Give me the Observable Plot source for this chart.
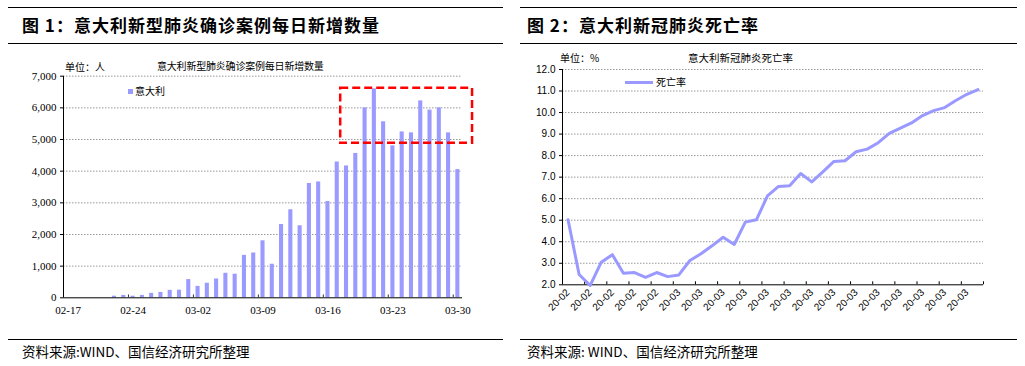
<!DOCTYPE html>
<html><head><meta charset="utf-8">
<script src="https://cdn.jsdelivr.net/npm/d3@7"></script>
<script src="https://cdn.jsdelivr.net/npm/@observablehq/plot@0.6"></script>
<style>
body{margin:0;background:#fff;}
#wrap{position:relative;width:1025px;height:366px;overflow:hidden;font-family:"Noto Sans CJK SC",sans-serif;color:#000;}
.rule{position:absolute;height:0;border-top:1.5px solid #000;}
.t{position:absolute;white-space:nowrap;line-height:1;}
.title{font-size:17px;font-weight:bold;letter-spacing:1px;}
.src{font-size:13.5px;}
.s10{font-size:10px;}
.chart{position:absolute;}
</style></head><body><div id="wrap">
<div class="rule" style="left:8px;top:7px;width:495px"></div>
<div class="rule" style="left:8px;top:43px;width:495px"></div>
<div class="rule" style="left:520px;top:7px;width:497px"></div>
<div class="rule" style="left:520px;top:43px;width:497px"></div>
<div class="rule" style="left:8px;top:339px;width:495px"></div>
<div class="rule" style="left:520px;top:339px;width:497px"></div>
<div class="t title" style="left:22px;top:16px">图 1：意大利新型肺炎确诊案例每日新增数量</div>
<div class="t title" style="left:527px;top:16px">图 2：意大利新冠肺炎死亡率</div>
<div class="t src" style="left:22px;top:345px">资料来源:WIND、国信经济研究所整理</div>
<div class="t src" style="left:527px;top:345px">资料来源: WIND、国信经济研究所整理</div>
<div id="left" class="chart" style="left:0px;top:50px"></div>
<div id="right" class="chart" style="left:515px;top:50px"></div>
<div class="t s10" style="left:65px;top:61.5px">单位：人</div>
<div class="t s10" style="left:157px;top:61px;letter-spacing:-0.2px">意大利新型肺炎确诊案例每日新增数量</div>
<div style="position:absolute;left:128px;top:88.5px;width:5px;height:5px;background:#9a9aff"></div>
<div class="t s10" style="left:135px;top:86px">意大利</div>
<div class="t s10" style="left:560px;top:53px">单位：%</div>
<div class="t" style="left:688px;top:53px;font-size:10.5px">意大利新冠肺炎死亡率</div>
<div style="position:absolute;left:625px;top:80.5px;width:28px;height:3px;background:#9999ff"></div>
<div class="t s10" style="left:656px;top:77px">死亡率</div>
</div>
<script>
// ---------- Chart 1 data: daily new confirmed cases (Italy) ----------
const caseDays = ["02-22","02-23","02-24","02-25","02-26","02-27","02-28","02-29",
  "03-01","03-02","03-03","03-04","03-05","03-06","03-07","03-08","03-09","03-10",
  "03-11","03-12","03-13","03-14","03-15","03-16","03-17","03-18","03-19","03-20",
  "03-21","03-22","03-23","03-24","03-25","03-26","03-27","03-28","03-29","03-30"];
const newCases = [50,75,50,75,140,170,235,240,
  575,360,460,595,775,745,1340,1415,1800,1060,
  2315,2780,2275,3610,3660,3040,4290,4165,4560,6000,
  6600,5560,4800,5240,5210,6220,5930,6000,5210,4050];
const leftXTickLabels = ["02-17","02-24","03-02","03-09","03-16","03-23","03-30"];
const leftDomain = ["02-17","03-31"];
const leftYTicks = [0,1000,2000,3000,4000,5000,6000,7000];
// highlighted box (annotation)
const boxFrom = "03-17T21:00", boxTo = "04-01T02:00", boxLow = 4880, boxHigh = 6620;

// ---------- Chart 2 data: case fatality rate (%) ----------
const rateDays = ["02-21","02-22","02-23","02-24","02-25","02-26","02-27","02-28","02-29",
  "03-01","03-02","03-03","03-04","03-05","03-06","03-07","03-08","03-09","03-10",
  "03-11","03-12","03-13","03-14","03-15","03-16","03-17","03-18","03-19","03-20",
  "03-21","03-22","03-23","03-24","03-25","03-26","03-27","03-28","03-29"];
const deathRate = [5.02,2.48,1.97,3.05,3.40,2.54,2.57,2.35,2.57,
  2.38,2.46,3.13,3.44,3.81,4.21,3.87,4.91,5.02,6.13,
  6.57,6.60,7.17,6.78,7.25,7.73,7.76,8.18,8.30,8.60,
  9.03,9.28,9.52,9.86,10.09,10.23,10.56,10.85,11.07];
const rightXTickLabels = ["20-02","20-02","20-02","20-02","20-02","20-03","20-03","20-03","20-03","20-03",
  "20-03","20-03","20-03","20-03","20-03","20-03","20-03","20-03","20-03"];
const rightYTicks = [2,3,4,5,6,7,8,9,10,11,12];

const parse = s => new Date("2020-" + s + (s.includes("T") ? ":00Z" : "T00:00:00Z"));
const cases = caseDays.map((d, i) => ({date: parse(d), value: newCases[i]}));
const weekTicks = leftXTickLabels.map(parse);
const weekMid = weekTicks.map(d => d3.utcHour.offset(d, 12));
const gridStyle = {stroke: "#9a9a9a", strokeOpacity: 1, strokeDasharray: "1.5,1.5"};

const left = Plot.plot({
  width: 505, height: 280,
  marginLeft: 63, marginRight: 43, marginTop: 25.7, marginBottom: 32.7,
  style: {fontFamily: "'Liberation Serif', serif", fontSize: "11px", color: "#000", background: "transparent", overflow: "visible"},
  x: {type: "utc", domain: leftDomain.map(parse), label: null},
  y: {domain: [0, 7000], label: null},
  marks: [
    Plot.gridY(leftYTicks.filter(v => v > 0), gridStyle),
    Plot.rectY(cases, {x: "date", y: "value", interval: "day", fill: "#9a9aff", insetLeft: 2.6, insetRight: 2.6}),
    Plot.ruleY([0], {stroke: "#000"}),
    Plot.ruleX([parse(leftDomain[0])], {stroke: "#000"}),
    Plot.ruleX(weekTicks.slice(1), {y1: 0, y2: 90, stroke: "#333"}),
    Plot.axisY({ticks: leftYTicks, tickFormat: d3.format(","), tickSize: 3, tickPadding: 4, label: null}),
    Plot.axisX({ticks: weekMid, tickFormat: (d) => leftXTickLabels[weekMid.findIndex(m => +m === +d)], tickSize: 0, tickPadding: 8, label: null}),
    Plot.rect([{x1: parse(boxFrom), x2: parse(boxTo), y1: boxLow, y2: boxHigh}],
      {x1: "x1", x2: "x2", y1: "y1", y2: "y2", fill: "none", stroke: "#ff0000", strokeWidth: 2.5, strokeDasharray: "8,4"})
  ]
});
document.getElementById("left").append(left);

const rates = deathRate.map((v, i) => ({i, day: rateDays[i], v}));
const boundaries = d3.range(0, rateDays.length + 1, 2).map(k => k - 0.5);
const labelIdx = d3.range(0, rateDays.length - 1, 2);

const right = Plot.plot({
  width: 500, height: 280,
  marginLeft: 47, marginRight: 32, marginTop: 19, marginBottom: 45.7,
  style: {fontFamily: "'Liberation Sans', Arial, sans-serif", fontSize: "10px", color: "#000", background: "transparent", overflow: "visible"},
  x: {domain: [-0.5, rateDays.length - 0.5], label: null},
  y: {domain: [2, 12], label: null},
  marks: [
    Plot.gridY(rightYTicks.filter(v => v > 2), gridStyle),
    Plot.ruleY([2], {stroke: "#000"}),
    Plot.ruleX([-0.5], {stroke: "#000"}),
    Plot.ruleX(boundaries, {y1: 2, y2: 2.14, stroke: "#000"}),
    Plot.line(rates, {x: "i", y: "v", stroke: "#9999ff", strokeWidth: 3, strokeLinejoin: "round"}),
    Plot.axisY({ticks: rightYTicks, tickFormat: d3.format(".1f"), tickSize: 3, tickPadding: 4, label: null}),
    Plot.axisX({ticks: labelIdx, tickFormat: i => rightXTickLabels[i / 2], tickRotate: -45, tickSize: 0, tickPadding: 6, label: null})
  ]
});
document.getElementById("right").append(right);
</script>
</body></html>
